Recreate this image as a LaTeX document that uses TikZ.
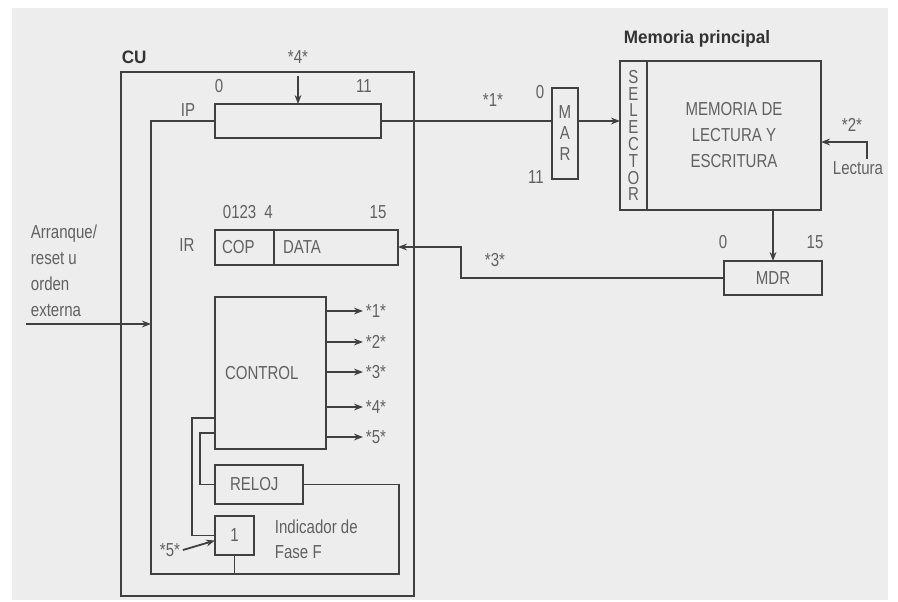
\documentclass[tikz,border=0pt]{standalone}
\usepackage{fontspec}
\setmainfont{Liberation Sans}[FakeStretch=0.8]
\newfontfamily\headfont{Liberation Sans}[FakeStretch=0.95]
\usetikzlibrary{arrows.meta,positioning}
\definecolor{linea}{gray}{0.25}
\definecolor{texto}{gray}{0.38}
\definecolor{fondo}{gray}{0.93}

\begin{document}
\begin{tikzpicture}[x=0.5pt, y=-0.5pt, >={Stealth[length=4.5pt,width=3.4pt]}, line width=0.9pt,
  font=\fontsize{9.4}{12.5}\selectfont,
  caja/.style={draw=linea, inner sep=0pt, outer sep=0pt, text=texto},
  tx/.style={text=texto, inner sep=1pt},
  head/.style={text=black!80, inner sep=0pt, font=\headfont\bfseries\fontsize{9}{11}\selectfont}]
\useasboundingbox (0,0) rectangle (898,601);
\fill[fondo] (12,8) rectangle (888,600);
% unidad de control
\node[caja, minimum width=146.5pt, minimum height=262pt] (cu) at (267.5,334) {};
\node[head, anchor=west] (cul) at (121,57) {CU};
\node[caja, minimum width=83pt, minimum height=17pt] (ip) at (298,121) {};
\node[caja, minimum height=17.5pt, inner xsep=3.5pt, text width=22.5pt, align=left] (cop) at (244.5,247.5) {COP};
\node[caja, right=0pt of cop, minimum height=17.5pt, inner xsep=4.5pt, text width=53pt, align=left] (data) {DATA};
\node[caja, minimum height=76pt, inner xsep=5pt, text width=45.5pt, align=left] (ctrl) at (270.5,373) {CONTROL};
\node[caja, minimum height=19.5pt, inner xsep=7.5pt, text width=29pt, align=left] (reloj) at (259,484.5) {RELOJ};
\node[caja, minimum size=19.5pt] (fase) at (234.5,535.5) {1};
\node[tx] (ipl) at (188,110) {IP}; \node[tx] (irl) at (187,245) {IR};
\node[tx] (ip0) at (219,86) {0}; \node[tx] (ip11) at (364,86) {11};
\node[tx, anchor=west] (ir0) at (220,212) {0123\hspace{4pt}4}; \node[tx] (ir15) at (378,212) {15};
\node[tx] (cuatro) at (298,57) {*4*};
\draw[linea, ->, shorten <=5pt] (cuatro) -- (ip);
% memoria
\node[head] (mpl) at (697,39) {Memoria principal};
\node[caja, minimum width=13pt, minimum height=45.5pt, align=center, font=\fontsize{9.4}{10.5}\selectfont] (mar) at (565,133.5) {M\\A\\R};
\node[caja, minimum width=13.5pt, minimum height=74.5pt, align=center, font=\fontsize{9.4}{8.4}\selectfont] (sel) at (633.5,135.5) {S\\E\\L\\E\\C\\T\\O\\R};
\node[caja, right=0pt of sel, minimum width=87pt, minimum height=74.5pt, align=center, font=\fontsize{9.4}{13}\selectfont] (mem) {MEMORIA DE\\LECTURA Y\\ESCRITURA};
\node[caja, minimum width=49pt, minimum height=17pt] (mdr) at (773,278) {MDR};
\node[tx] (mar0) at (540,92) {0}; \node[tx] (mar11) at (536,177) {11};
\node[tx] (mdr0) at (723,242) {0}; \node[tx] (mdr15) at (815,242) {15};
% conexiones
\coordinate (lazoA) at (151,574); \coordinate (lazoB) at (399,574);
\draw[linea] (ip.west) -| (lazoA) -- (lazoB) |- (reloj.east);
\draw[linea] (fase.south) -- (fase.south |- lazoA);
\draw[linea] ([yshift=-22.5pt]ctrl.west) -| ([xshift=-11.5pt]fase.west) -- (fase.west);
\draw[linea] ([yshift=-30pt]ctrl.west) -| ([xshift=-7.5pt]reloj.west) -- (reloj.west);
\node[tx] (cinco) at (170,550) {*5*};
\draw[linea, ->] (cinco.east) -- ([yshift=-2.5pt]fase.west);
\foreach \d/\n in {14/1, 45/2, 75/3, 110/4, 140/5}
  \draw[linea, ->] (ctrl.north east) ++(0,\d) -- ++(37,0) node[tx, right] {*\n*};
\draw[linea] (ip.east) -- (ip.east -| mar.west);
\draw[linea, ->] (ip.east -| mar.east) -- (ip.east -| sel.west);
\node[tx] (uno) at (493,100) {*1*};
\node[tx] (lect) at (858,168) {Lectura}; \node[tx] (dos) at (852,125) {*2*};
\coordinate (lectB) at (867,142);
\draw[linea, ->] (lect.north -| lectB) -- (lectB) -- (lectB -| mem.east);
\draw[linea, ->] (mdr.north |- mem.south) -- (mdr.north);
\coordinate (codo) at (461,247);
\draw[linea, ->] (mdr.west) -| (codo) -- (codo -| data.east);
\node[tx] (tres) at (495,260) {*3*};
\node[tx, anchor=west, align=left, font=\fontsize{9.4}{13}\selectfont] (arr) at (28,271) {Arranque/\\reset u\\orden\\externa};
\coordinate (arrA) at (26,324);
\draw[linea, ->] (arrA) -- (arrA -| lazoA);
\node[tx, anchor=west, align=left, font=\fontsize{9.4}{12.5}\selectfont] (ind) at (272,539.5) {Indicador de\\Fase F};
\end{tikzpicture}
\end{document}
